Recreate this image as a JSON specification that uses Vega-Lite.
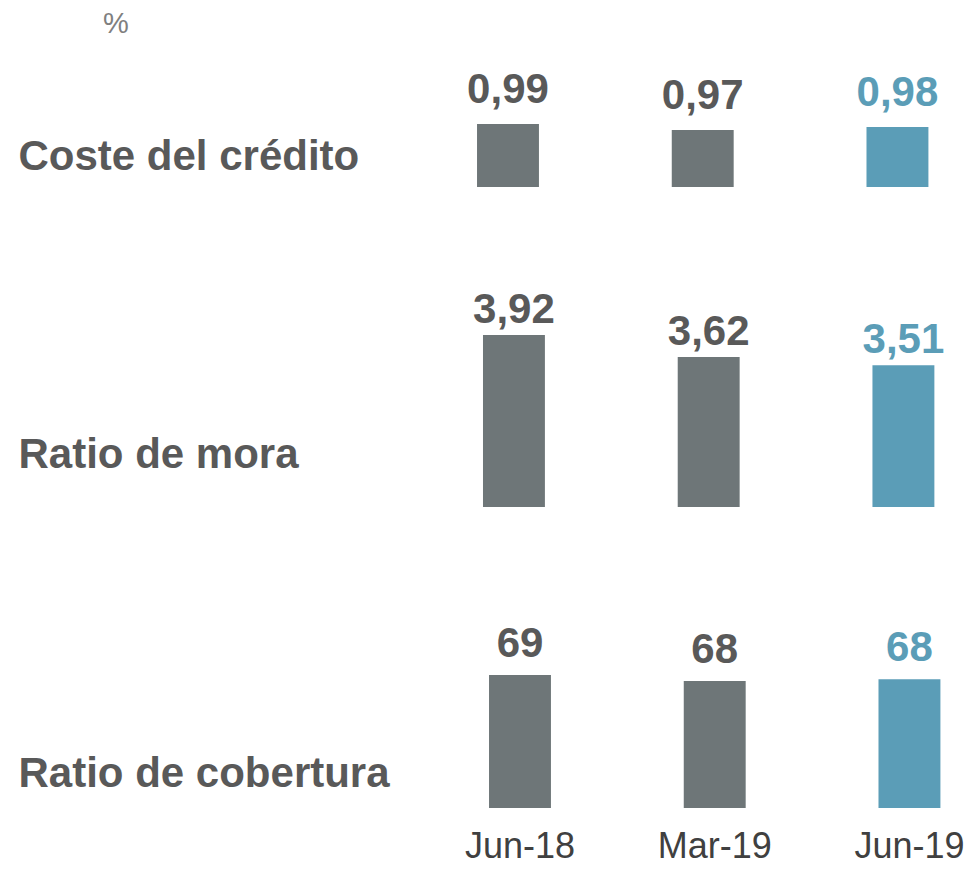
{
  "$schema": "https://vega.github.io/schema/vega-lite/v6.json",
  "background": "white",
  "padding": {"left": 18, "top": 10, "right": 0, "bottom": 0},
  "title": {"text": "%", "anchor": "start", "dx": 85, "fontSize": 29, "fontWeight": "normal", "color": "#7f7f7f", "font": "Liberation Sans", "baseline": "alphabetic", "offset": -1},
  "datasets": {
    "coste": [
      {"periodo": "Jun-18", "valor": 0.99, "etiqueta": "0,99", "serie": "anterior"},
      {"periodo": "Mar-19", "valor": 0.97, "etiqueta": "0,97", "serie": "anterior"},
      {"periodo": "Jun-19", "valor": 0.98, "etiqueta": "0,98", "serie": "actual"}
    ],
    "mora": [
      {"periodo": "Jun-18", "valor": 3.92, "etiqueta": "3,92", "serie": "anterior"},
      {"periodo": "Mar-19", "valor": 3.62, "etiqueta": "3,62", "serie": "anterior"},
      {"periodo": "Jun-19", "valor": 3.51, "etiqueta": "3,51", "serie": "actual"}
    ],
    "cobertura": [
      {"periodo": "Jun-18", "valor": 69.0, "etiqueta": "69", "serie": "anterior"},
      {"periodo": "Mar-19", "valor": 68.0, "etiqueta": "68", "serie": "anterior"},
      {"periodo": "Jun-19", "valor": 68.3, "etiqueta": "68", "serie": "actual"}
    ]
  },
  "spacing": 90,
  "vconcat": [
    {
      "width": 525, "height": 126,
      "data": {"name": "coste"},
      "encoding": {
        "x": {"field": "periodo", "type": "nominal", "sort": null, "scale": {"paddingInner": 0.682, "paddingOuter": 0.189, "align": 0.503}, "axis": null},
        "y": {"field": "valor", "type": "quantitative", "scale": {"domain": [0.78, 1.2], "zero": false, "nice": false},
          "axis": {"title": "Coste del crédito", "domain": false, "ticks": false, "labels": false, "grid": false, "titleAngle": 0, "titleAlign": "left", "titleBaseline": "alphabetic", "titleX": -422, "titleY": 108, "titleFontSize": 42, "titleFontWeight": "bold", "titleColor": "#595959", "titleFont": "Liberation Sans"}}
      },
      "layer": [
        {"mark": {"type": "bar"}, "encoding": {"y2": {"datum": 0.78}, "color": {"field": "serie", "type": "nominal", "scale": {"domain": ["anterior", "actual"], "range": ["#6e7678", "#5b9db7"]}, "legend": null}}},
        {"mark": {"type": "text", "baseline": "alphabetic", "dy": -21, "fontSize": 42, "fontWeight": "bold", "font": "Liberation Sans"}, "encoding": {"text": {"field": "etiqueta"}, "color": {"field": "serie", "type": "nominal", "scale": {"domain": ["anterior", "actual"], "range": ["#595959", "#5b9db7"]}, "legend": null}}}
      ],
      "resolve": {"scale": {"color": "independent"}}
    },
    {
      "width": 525, "height": 230,
      "data": {"name": "mora"},
      "encoding": {
        "x": {"field": "periodo", "type": "nominal", "sort": null, "scale": {"paddingInner": 0.682, "paddingOuter": 0.189, "align": 0.584}, "axis": null},
        "y": {"field": "valor", "type": "quantitative", "scale": {"domain": [1.575, 4.712], "zero": false, "nice": false},
          "axis": {"title": "Ratio de mora", "domain": false, "ticks": false, "labels": false, "grid": false, "titleAngle": 0, "titleAlign": "left", "titleBaseline": "alphabetic", "titleX": -422, "titleY": 190, "titleFontSize": 42, "titleFontWeight": "bold", "titleColor": "#595959", "titleFont": "Liberation Sans"}}
      },
      "layer": [
        {"mark": {"type": "bar"}, "encoding": {"y2": {"datum": 1.575}, "color": {"field": "serie", "type": "nominal", "scale": {"domain": ["anterior", "actual"], "range": ["#6e7678", "#5b9db7"]}, "legend": null}}},
        {"mark": {"type": "text", "baseline": "alphabetic", "dy": -12, "fontSize": 42, "fontWeight": "bold", "font": "Liberation Sans"}, "encoding": {"text": {"field": "etiqueta"}, "color": {"field": "serie", "type": "nominal", "scale": {"domain": ["anterior", "actual"], "range": ["#595959", "#5b9db7"]}, "legend": null}}}
      ],
      "resolve": {"scale": {"color": "independent"}}
    },
    {
      "width": 525, "height": 211,
      "data": {"name": "cobertura"},
      "encoding": {
        "x": {"field": "periodo", "type": "nominal", "sort": null, "scale": {"paddingInner": 0.682, "paddingOuter": 0.189, "align": 0.666},
          "axis": {"title": null, "domain": false, "ticks": false, "tickSize": 0, "grid": false, "labelAngle": 0, "labelFontSize": 36, "labelFont": "Liberation Sans", "labelColor": "#404040", "labelBaseline": "alphabetic", "labelPadding": 49}},
        "y": {"field": "valor", "type": "quantitative", "scale": {"domain": [46.83, 82.0], "zero": false, "nice": false},
          "axis": {"title": "Ratio de cobertura", "domain": false, "ticks": false, "labels": false, "grid": false, "titleAngle": 0, "titleAlign": "left", "titleBaseline": "alphabetic", "titleX": -422, "titleY": 189, "titleFontSize": 42, "titleFontWeight": "bold", "titleColor": "#595959", "titleFont": "Liberation Sans"}}
      },
      "layer": [
        {"mark": {"type": "bar"}, "encoding": {"y2": {"datum": 46.83}, "color": {"field": "serie", "type": "nominal", "scale": {"domain": ["anterior", "actual"], "range": ["#6e7678", "#5b9db7"]}, "legend": null}}},
        {"mark": {"type": "text", "baseline": "alphabetic", "dy": -18, "fontSize": 42, "fontWeight": "bold", "font": "Liberation Sans"}, "encoding": {"text": {"field": "etiqueta"}, "color": {"field": "serie", "type": "nominal", "scale": {"domain": ["anterior", "actual"], "range": ["#595959", "#5b9db7"]}, "legend": null}}}
      ],
      "resolve": {"scale": {"color": "independent"}}
    }
  ],
  "config": {"view": {"stroke": null}, "font": "Liberation Sans"}
}
